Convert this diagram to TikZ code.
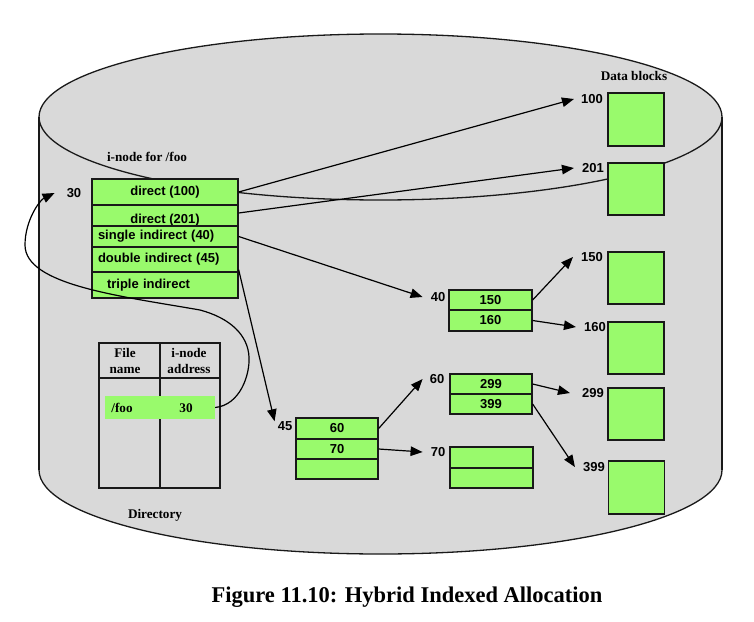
\documentclass[tikz,border=0pt]{standalone}
\usepackage{fontspec}
\setmainfont{Liberation Serif}
\newfontfamily\ar{Liberation Sans}
\usetikzlibrary{arrows.meta}
\definecolor{grn}{RGB}{153,250,108}
\definecolor{cylgray}{RGB}{217,217,217}
\definecolor{ink}{RGB}{25,25,25}
\tikzset{
  cell/.style={draw=ink, fill=grn, line width=1.3pt, inner sep=0pt,
    font=\ar\bfseries\fontsize{13}{15}\selectfont},
  num/.style={font=\ar\bfseries\fontsize{13}{15}\selectfont, inner sep=0pt},
  ser/.style={font=\bfseries\fontsize{13.2}{16}\selectfont, inner sep=0pt, align=center},
  arr/.style={draw=black, line width=1.2pt, -{Triangle[length=12pt,width=9.5pt]}},
  cyl/.style={draw=ink, line width=1.3pt}
}
\begin{document}
\begin{tikzpicture}[x=1pt,y=-1pt]
\useasboundingbox (0,0) rectangle (754,621);
% cylinder
\fill[cylgray] (39,117) rectangle (722,470);
\fill[cylgray] (380.5,470) ellipse [x radius=341.5, y radius=84];
\fill[cylgray] (380.5,117) ellipse [x radius=341.5, y radius=83];
\draw[cyl] (39,117) -- (39,470);
\draw[cyl] (722,117) -- (722,470);
\begin{scope}
  \clip (0,470) rectangle (754,621);
  \draw[cyl] (380.5,470) ellipse [x radius=341.5, y radius=84];
\end{scope}
\draw[cyl] (380.5,117) ellipse [x radius=341.5, y radius=83];

% i-node
\node[ser] (inlab) at (147,157) {i-node for /foo};
\node[num] (lbl30) at (74,193) {30};
\node[cell, minimum width=146pt, minimum height=26pt] (r1) at (165,192) {direct (100)};
\node[cell, minimum width=146pt, minimum height=30pt] (r2) at (165,220) {direct (201)};
\node[cell, minimum width=146pt, minimum height=21pt, text width=134pt, align=left] (r3) at (165,236.5) {single indirect (40)};
\node[cell, minimum width=146pt, minimum height=25pt, text width=134pt, align=left] (r4) at (165,259.5) {double indirect (45)};
\node[cell, minimum width=146pt, minimum height=26pt, text width=134pt, align=left] (r5) at (165,285) {\hspace*{9pt}triple indirect};

% data blocks
\node[ser] (dblab) at (634,76) {Data blocks};
\node[cell, minimum width=56pt, minimum height=53pt] (d100) at (636,119.5) {};
\node[cell, minimum width=56pt, minimum height=52pt] (d201) at (636,189) {};
\node[cell, minimum width=56pt, minimum height=52pt] (d150) at (636,278) {};
\node[cell, minimum width=56pt, minimum height=52pt] (d160) at (636,348) {};
\node[cell, minimum width=56pt, minimum height=52pt] (d299) at (636,414) {};
\node[cell, minimum width=56pt, minimum height=53pt] (d399) at (636.5,487.5) {};
\node[num] (l100) at (592,99) {100};
\node[num] (l201) at (593,168) {201};
\node[num] (l150) at (592,257) {150};
\node[num] (l160) at (595,327) {160};
\node[num] (l299) at (593,393) {299};
\node[num] (l399) at (594,467) {399};

% index blocks
\node[num] (l40) at (438,297) {40};
\node[cell, minimum width=83pt, minimum height=20pt] (b40a) at (490.5,300) {150};
\node[cell, minimum width=83pt, minimum height=21pt] (b40b) at (490.5,320.5) {160};
\node[num] (l60) at (437,379) {60};
\node[cell, minimum width=82pt, minimum height=20pt] (b60a) at (491,384) {299};
\node[cell, minimum width=82pt, minimum height=20pt] (b60b) at (491,404) {399};
\node[num] (l45) at (285,426) {45};
\node[cell, minimum width=82pt, minimum height=21pt] (b45a) at (337,428.5) {60};
\node[cell, minimum width=82pt, minimum height=20pt] (b45b) at (337,449) {70};
\node[cell, minimum width=82pt, minimum height=20pt] (b45c) at (337,469) {};
\node[num] (l70) at (438,452) {70};
\node[cell, minimum width=83pt, minimum height=21pt] (b70a) at (491.5,457.5) {};
\node[cell, minimum width=83pt, minimum height=20pt] (b70b) at (491.5,478) {};

% directory
\node[draw=ink, line width=1.3pt, minimum width=121pt, minimum height=145pt, inner sep=0pt] (dirtab) at (159.5,415.5) {};
\draw[draw=ink, line width=1.3pt] (99,378) -- (220,378);
\draw[draw=ink, line width=1.3pt] (160,343) -- (160,488);
\node[ser] (hfile) at (125,361) {File\\name};
\node[ser] (hinode) at (189,361) {i-node\\address};
\node[fill=grn, minimum width=110pt, minimum height=23pt, inner sep=0pt] (frow) at (160,407.5) {};
\node[ser] (ffoo) at (122,408) {/foo};
\node[ser] (f30) at (186,408) {30};
\node[ser] (dirlab) at (155,515) {Directory};

% connectors
\draw[arr] (r1.east) -- ([xshift=-7pt]l100.west);
\draw[arr] ([yshift=7pt]r2.east) -- ([xshift=-8pt]l201.west);
\draw[arr] (r3.east) -- ([xshift=-8pt]l40.west);
\draw[arr] ([yshift=3pt]r4.south east) -- ([xshift=-3pt]l45.north west);
\draw[arr] (b40a.east) -- ([xshift=-8pt]l150.west);
\draw[arr] (b40b.east) -- ([xshift=-8pt]l160.west);
\draw[arr] (b45a.east) -- ([xshift=-7pt]l60.west);
\draw[arr] (b45b.east) -- ([xshift=-8pt]l70.west);
\draw[arr] (b60a.east) -- ([xshift=-12pt]l299.west);
\draw[arr] (b60b.east) -- ([xshift=-8pt]l399.west);
\draw[arr] (frow.east) .. controls (240,405) and (250,375) .. (249,357)
  .. controls (248,335) and (230,318) .. (200,310)
  .. controls (120,296) and (25,285) .. (25,245)
  .. controls (25,220) and (40,200) .. ([xshift=-12pt]lbl30.west);

% caption
\node[font=\bfseries\fontsize{22.5}{26}\selectfont, inner sep=0pt] (cap) at (407,597) {Figure 11.10: Hybrid Indexed Allocation};
\end{tikzpicture}
\end{document}
